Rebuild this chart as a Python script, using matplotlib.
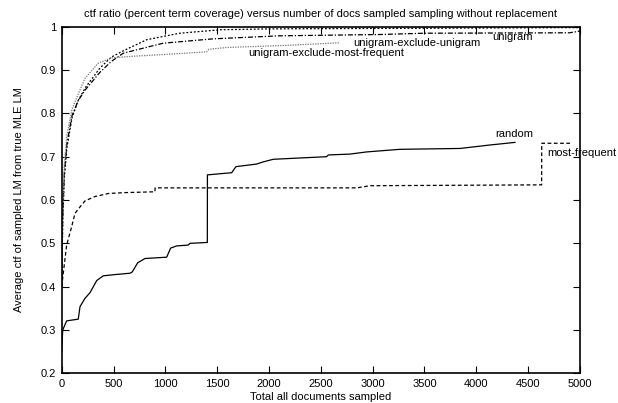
import matplotlib
matplotlib.use("Agg")
import matplotlib.pyplot as plt

plt.rcParams['font.family'] = ['Liberation Sans', 'DejaVu Sans']

# random (solid)
random_x = [0, 10, 48, 160, 177, 225, 273, 338, 401, 520, 659, 681, 733, 804, 1013, 1051, 1109, 1221, 1238,
            1405, 1406, 1640, 1681, 1881, 1945, 2041, 2556, 2572, 2781, 2942, 3263, 3843, 4132, 4373]
random_y = [0.25, 0.30, 0.321, 0.325, 0.354, 0.373, 0.386, 0.414, 0.425, 0.428, 0.431, 0.434, 0.455, 0.465, 0.468,
            0.489, 0.494, 0.496, 0.500, 0.502, 0.658, 0.663, 0.677, 0.683, 0.688, 0.694, 0.700, 0.704, 0.706,
            0.711, 0.717, 0.719, 0.727, 0.733]

# most-frequent (dashed)
mostfreq_x = [0, 15, 30, 48, 96, 128, 160, 225, 321, 450, 600, 900, 901, 2846, 2974, 4630, 4631, 4904]
mostfreq_y = [0.40, 0.43, 0.46, 0.496, 0.538, 0.569, 0.579, 0.598, 0.608, 0.615, 0.617, 0.619, 0.628, 0.628,
              0.633, 0.635, 0.731, 0.731]

# unigram-exclude-unigram (short dash, top)
uxu_x = [0, 10, 25, 50, 100, 160, 230, 370, 480, 600, 820, 1140, 1530, 2000, 3000, 4000, 5000]
uxu_y = [0.40, 0.55, 0.65, 0.72, 0.79, 0.83, 0.86, 0.905, 0.93, 0.945, 0.97, 0.985, 0.993, 0.995, 0.996,
         0.997, 0.998]

# unigram (dash-dot)
uni_x = [0, 10, 25, 50, 100, 160, 230, 370, 480, 595, 980, 1460, 2100, 3070, 3500, 4900, 5000]
uni_y = [0.40, 0.56, 0.66, 0.73, 0.795, 0.83, 0.855, 0.895, 0.92, 0.939, 0.962, 0.972, 0.979, 0.982, 0.985,
         0.986, 0.99]

# unigram-exclude-most-frequent (gray dotted)
uxm_x = [0, 10, 25, 50, 100, 160, 225, 353, 480, 700, 1000, 1398, 1420, 1591, 2170, 2685]
uxm_y = [0.42, 0.58, 0.68, 0.75, 0.81, 0.845, 0.881, 0.916, 0.928, 0.932, 0.936, 0.942, 0.948, 0.952, 0.957,
         0.963]

x_ticks = [0, 500, 1000, 1500, 2000, 2500, 3000, 3500, 4000, 4500, 5000]
y_ticks = [0.2, 0.3, 0.4, 0.5, 0.6, 0.7, 0.8, 0.9, 1.0]
y_tick_labels = ["0.2", "0.3", "0.4", "0.5", "0.6", "0.7", "0.8", "0.9", "1"]

fig = plt.figure(figsize=(6.18, 4.03), dpi=100)
ax = fig.add_axes([0.0998, 0.0737, 0.8387, 0.86])

lw = 0.9
ax.plot(random_x, random_y, color='black', lw=lw, linestyle='-')
ax.plot(mostfreq_x, mostfreq_y, color='black', lw=lw, linestyle=(0, (3, 2)))
ax.plot(uxu_x, uxu_y, color='black', lw=lw, linestyle=(0, (1.5, 1.5)))
ax.plot(uni_x, uni_y, color='black', lw=lw, linestyle=(0, (4, 1.5, 1, 1.5)))
ax.plot(uxm_x, uxm_y, color='#777777', lw=lw, linestyle=(0, (1, 1)))

fs = 8
ax.text(4363, 0.752, "random", fontsize=fs, ha='center', va='center')
ax.text(4686, 0.7096, "most-frequent", fontsize=fs, ha='left', va='center', clip_on=False)
ax.text(4150, 0.976, "unigram", fontsize=fs, ha='left', va='center')
ax.text(2813, 0.9635, "unigram-exclude-unigram", fontsize=fs, ha='left', va='center')
ax.text(1798, 0.940, "unigram-exclude-most-frequent", fontsize=fs, ha='left', va='center')

ax.set_xlim(0, 5000)
ax.set_ylim(0.2, 1.0)
ax.set_xticks(x_ticks)
ax.set_xticklabels([str(v) for v in x_ticks])
ax.set_yticks(y_ticks)
ax.set_yticklabels(y_tick_labels)
ax.tick_params(direction='in', length=5, width=0.8, top=True, right=True, labelsize=fs, pad=4)
for s in ax.spines.values():
    s.set_linewidth(1.2)

ax.set_title("ctf ratio (percent term coverage) versus number of docs sampled sampling without replacement",
             fontsize=fs, pad=7)
ax.set_xlabel("Total all documents sampled", fontsize=fs, labelpad=2)
ax.set_ylabel("Average ctf of sampled LM from true MLE LM", fontsize=fs, labelpad=12)

fig.savefig("out.png", dpi=100)
